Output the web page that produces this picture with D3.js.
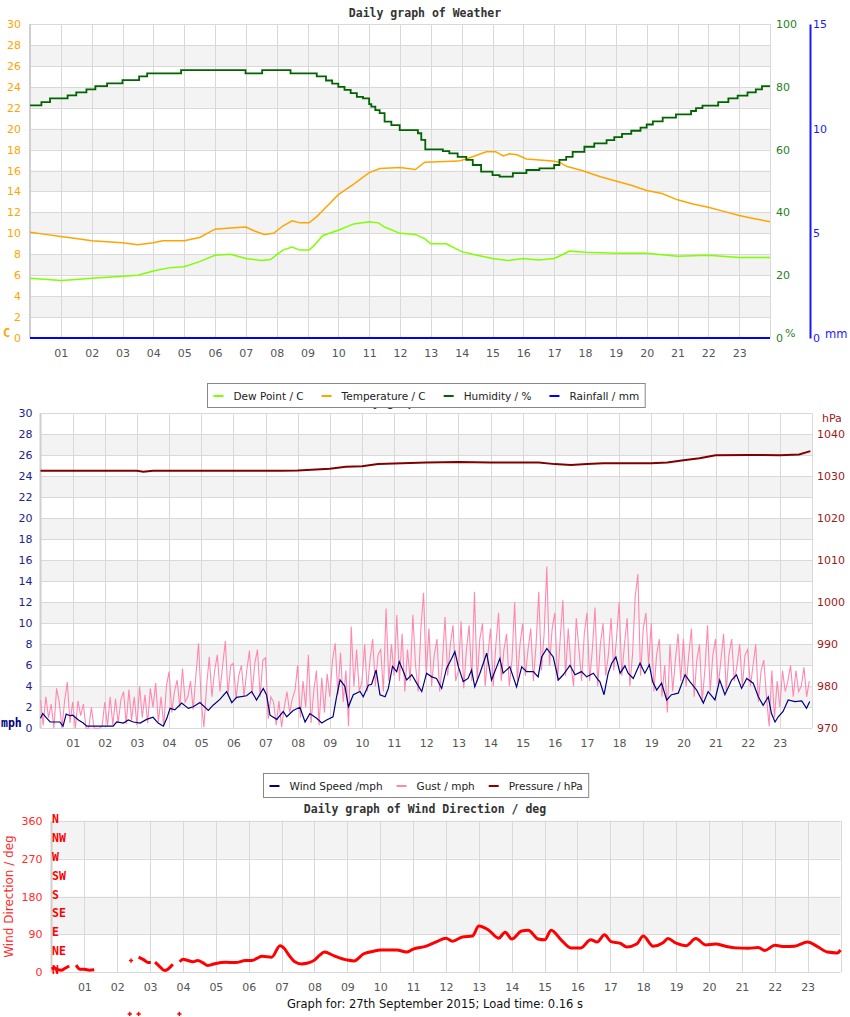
<!DOCTYPE html>
<html>
<head>
<meta charset="utf-8">
<script src="https://cdn.jsdelivr.net/npm/d3@7"></script>
<style>
  body { margin: 0; background: #fff; }
  svg { display: block; font-family: "DejaVu Sans", sans-serif; }
</style>
</head>
<body>
<div class="chart"></div>
<script>
// ---- data (hour of day, value) ----
var hourTicks = d3.range(1, 24);
var hourLabels = ['01','02','03','04','05','06','07','08','09','10','11','12','13','14','15','16','17','18','19','20','21','22','23'];

var tempTicks = [0, 2, 4, 6, 8, 10, 12, 14, 16, 18, 20, 22, 24, 26, 28, 30];
var humTicks = [0, 20, 40, 60, 80, 100];
var rainTicks = [0, 5, 10, 15];
var pressTicks = [970, 980, 990, 1000, 1010, 1020, 1030, 1040];
var dirTicks = [0, 90, 180, 270, 360];
var compass = ['N', 'NE', 'E', 'SE', 'S', 'SW', 'W', 'NW', 'N'];

var dewPoint = [[0,5.7],[1,5.5],[1.5,5.6],[2,5.7],[3,5.9],[3.5,6.0],[4,6.4],[4.5,6.7],[5,6.8],[5.5,7.3],[6,7.9],[6.5,8.0],[7,7.6],[7.5,7.4],[7.8,7.5],[8.2,8.4],[8.5,8.7],[8.75,8.4],[9.05,8.4],[9.2,8.8],[9.5,9.8],[10,10.3],[10.5,10.9],[11,11.1],[11.3,11.0],[11.5,10.6],[12,10.0],[12.5,9.9],[12.8,9.5],[13,9.0],[13.5,9.0],[14,8.25],[14.5,7.9],[15,7.6],[15.5,7.4],[16,7.6],[16.5,7.45],[17,7.6],[17.3,8.0],[17.5,8.3],[18,8.2],[19,8.1],[20,8.1],[21,7.8],[22,7.9],[23,7.7],[24,7.7]];

var temperature = [[0,10.1],[0.5,9.9],[1,9.7],[1.5,9.5],[2,9.3],[2.5,9.2],[3,9.1],[3.5,8.9],[4,9.1],[4.3,9.3],[5,9.3],[5.5,9.6],[6,10.4],[6.5,10.5],[7,10.6],[7.3,10.2],[7.6,9.9],[7.9,10.0],[8.2,10.7],[8.5,11.2],[8.75,11.0],[9.05,11.0],[9.3,11.6],[9.6,12.5],[10,13.7],[10.5,14.7],[11,15.8],[11.35,16.2],[12,16.3],[12.5,16.1],[12.8,16.8],[13.9,16.9],[14.15,17.1],[14.8,17.8],[15.1,17.8],[15.35,17.4],[15.55,17.6],[15.8,17.5],[16.1,17.1],[16.95,16.9],[17.17,16.8],[17.4,16.4],[17.9,16.0],[18.5,15.4],[19,15.0],[19.5,14.6],[20,14.1],[20.5,13.8],[21,13.2],[21.5,12.8],[22,12.5],[22.5,12.1],[23,11.7],[23.5,11.4],[24,11.1]];

var humidity = [[0,74.1],[0.37,75.1],[0.65,76.3],[1.22,77.3],[1.5,78.2],[1.83,79.2],[2.12,80.2],[2.5,81.1],[3.0,82.1],[3.54,83.3],[3.8,84.3],[4.9,85.3],[6.99,84.3],[7.53,85.3],[8.45,84.3],[9.3,83.3],[9.6,82],[9.8,81],[10.0,80],[10.2,79],[10.4,78],[10.6,76.8],[10.8,76.3],[11.0,74.5],[11.07,73.7],[11.2,72.6],[11.34,71.6],[11.5,68.9],[11.72,67.8],[11.99,66.2],[12.58,65.2],[12.69,63.1],[12.82,60.1],[13.39,59.5],[13.6,58.8],[13.87,57.7],[14.15,56.7],[14.36,55.1],[14.63,53.0],[15.0,51.9],[15.23,51.4],[15.66,52.5],[16.1,53.5],[16.52,54.0],[17.0,55.1],[17.17,56.7],[17.39,57.7],[17.6,59.3],[17.98,60.9],[18.3,62.0],[18.7,63],[18.95,64],[19.2,65],[19.5,66],[19.8,67],[20.0,68],[20.2,69],[20.52,70.2],[20.95,71.2],[21.44,72.3],[21.6,73.2],[21.81,74.0],[22.32,75.1],[22.65,76.3],[22.95,77.2],[23.27,78.2],[23.54,79.2],[23.74,80.2],[24,80.2]];

var rainfall = [[0,0],[24,0]];

var windSpeed = [[0,0.95],[0.07,1.4],[0.2,0.95],[0.3,0.6],[0.6,0.6],[0.7,0.2],[0.8,1.35],[0.92,1.2],[1.0,1.25],[1.18,0.8],[1.33,0.5],[1.44,0.2],[2.26,0.2],[2.37,0.6],[2.58,0.5],[2.73,0.8],[2.89,0.6],[3.1,0.5],[3.3,0.85],[3.5,1.05],[3.66,0.5],[3.82,0.2],[3.93,0.95],[4.03,1.9],[4.18,1.75],[4.39,2.4],[4.6,1.9],[4.75,2.05],[4.96,2.45],[5.22,1.7],[5.37,2.2],[5.58,2.75],[5.79,3.5],[5.95,2.45],[6.1,2.95],[6.41,3.1],[6.57,3.5],[6.72,2.7],[6.93,3.8],[7.03,3.2],[7.14,1.25],[7.35,0.85],[7.55,1.6],[7.66,1.1],[7.86,1.7],[8.07,2.0],[8.23,0.6],[8.38,1.4],[8.59,0.95],[8.75,0.5],[8.9,0.8],[9.1,1.1],[9.21,3.0],[9.32,4.6],[9.47,4.0],[9.58,2.05],[9.73,3.2],[9.94,3.5],[10.04,3.0],[10.2,4.1],[10.3,4.2],[10.44,5.55],[10.56,3.2],[10.72,3.0],[10.82,3.8],[10.95,5.9],[11.08,5.4],[11.16,6.35],[11.31,5.25],[11.39,4.6],[11.55,5.1],[11.7,4.3],[11.86,3.5],[12.01,5.25],[12.17,4.9],[12.32,4.75],[12.48,3.8],[12.63,5.7],[12.79,6.65],[12.89,7.3],[13.0,5.85],[13.15,4.45],[13.3,4.75],[13.41,5.55],[13.51,3.95],[13.67,5.25],[13.88,7.15],[14.03,4.6],[14.19,5.85],[14.29,6.65],[14.39,5.25],[14.6,5.85],[14.81,3.95],[14.97,5.85],[15.12,5.4],[15.33,5.4],[15.48,4.9],[15.59,6.8],[15.75,7.6],[15.95,6.8],[16.11,4.6],[16.26,5.1],[16.47,6.0],[16.63,5.1],[16.83,5.4],[16.99,4.9],[17.2,5.25],[17.35,4.6],[17.4,4.45],[17.53,3.2],[17.66,5.25],[17.77,6.2],[17.9,6.8],[18.03,5.25],[18.18,5.95],[18.28,5.25],[18.44,4.75],[18.65,6.2],[18.8,5.25],[18.94,6.05],[19.04,4.45],[19.17,3.65],[19.32,4.3],[19.48,2.7],[19.63,3.2],[19.84,3.35],[20.05,5.1],[20.2,4.45],[20.41,3.65],[20.62,2.4],[20.77,3.5],[20.98,2.7],[21.13,4.6],[21.29,3.2],[21.5,4.6],[21.65,5.1],[21.81,3.8],[21.97,4.75],[22.17,4.3],[22.33,3.0],[22.48,2.2],[22.64,3.0],[22.74,1.4],[22.85,0.6],[22.95,1.1],[23.1,1.6],[23.26,2.7],[23.47,2.55],[23.68,2.6],[23.83,1.9],[23.93,2.55]];

// gust readings every 5 minutes, one row per hour
var gustStep = 1 / 12;
var gust = [
  2.7,0.3,3.0,1.0,2.3,0,3.8,2.5,0,2.6,4.4,0.5,
  2.5,0,2.6,1.2,2.3,0,0,2.0,0,0,0,0.2,
  2.5,0.2,3.0,0.3,2.8,0.5,2.7,3.5,0.4,3.7,0.8,3.0,
  0.3,4.0,1.0,3.2,0.5,3.8,2.0,4.3,0.6,3.0,0.2,4.0,
  5.4,1.5,3.5,4.6,2.0,5.7,2.5,3.0,4.5,1.8,5.0,8.1,
  2.5,0.1,4.0,6.8,3.0,5.5,7.0,3.5,6.0,8.3,3.2,6.0,
  6.2,2.8,5.0,6.0,3.0,5.5,7.4,3.2,6.2,7.5,3.0,6.5,
  6.7,0.9,3.0,2.5,0.3,2.6,0.1,2.0,3.5,1.5,2.8,3.6,
  6.0,1.0,4.5,2.0,7.0,0.5,3.5,5.5,0.3,4.8,1.5,5.2,
  3.0,6.5,8.1,3.2,7.2,2.5,5.5,0.2,9.7,4.0,7.5,3.5,
  4.5,8.0,3.5,6.5,8.5,4.0,7.0,7.5,3.5,11.4,4.5,8.0,
  5.0,10.8,4.5,9.0,3.5,7.5,4.5,10.8,6.0,3.5,9.5,12.9,
  5.0,9.5,4.0,7.0,8.5,3.5,6.0,10.6,5.0,8.0,9.8,4.5,
  5.5,10.2,3.8,7.5,9.8,4.5,13.0,4.5,8.5,10.0,4.0,7.0,
  9.5,4.0,8.0,11.0,4.5,7.5,9.0,4.0,6.5,12.0,4.5,8.0,
  10.0,5.0,7.5,9.5,4.5,8.0,13.0,5.5,9.0,15.4,6.0,9.5,
  11.0,4.5,8.5,12.2,5.0,9.5,6.0,4.0,10.5,7.5,4.5,9.0,
  11.0,4.5,7.5,11.5,4.0,8.0,10.0,5.0,7.0,10.5,5.5,8.5,
  12.0,5.0,8.0,10.5,4.0,7.0,12.5,14.7,5.0,9.5,11.0,6.0,
  10.0,3.5,7.0,8.5,3.0,6.0,1.5,8.0,3.5,6.5,9.0,4.5,
  8.5,4.0,7.0,9.5,3.0,6.5,8.0,2.5,5.5,9.8,3.5,7.0,
  8.5,4.0,6.5,9.0,3.5,7.0,8.5,4.5,6.0,8.0,4.0,7.0,
  7.5,4.0,6.0,8.0,2.5,5.5,6.5,3.0,0.2,5.5,1.0,4.5,
  2.0,5.5,3.5,4.5,6.0,3.0,5.5,3.5,4.0,5.8,3.0,4.5
];

var pressure = [[0,1031.3],[3,1031.3],[3.2,1031.1],[3.5,1031.3],[7.5,1031.3],[8,1031.4],[9,1031.8],[9.5,1032.3],[10,1032.4],[10.5,1032.9],[12,1033.3],[13,1033.4],[14,1033.3],[15.5,1033.3],[16,1032.9],[16.5,1032.7],[17,1032.9],[17.5,1033.1],[19,1033.1],[19.5,1033.3],[20,1033.8],[20.5,1034.3],[21,1035.0],[22,1035.1],[23,1035.0],[23.6,1035.2],[23.95,1036.0]];

// null marks a gap in the record
var windDir = [[0,8],[0.1,10],[0.2,6],[0.3,5],[0.4,9],[0.54,15],[0.6,null],
  [0.75,17],[0.87,7],[1.0,7],[1.15,5],[1.3,6],[1.35,null],
  [2.65,36],[2.8,30],[2.94,23],[3.02,23],[3.08,null],
  [3.15,24],[3.3,13],[3.44,4],[3.55,8],[3.69,19],[3.75,null],
  [3.9,25],[4.0,31],[4.15,28],[4.3,25],[4.45,28],[4.6,23],[4.75,16],[4.9,19],[5.0,21],[5.3,24],[5.6,23],[5.9,28],[6.1,28],[6.25,33],[6.4,38],[6.7,36],[6.95,63],[7.1,55],[7.2,43],[7.4,25],[7.6,20],[7.8,22],[8.0,29],[8.15,40],[8.3,48],[8.6,39],[9.0,29],[9.2,27],[9.5,44],[9.8,50],[10.0,53],[10.5,53],[10.8,48],[11.0,55],[11.4,62],[11.7,72],[12.0,81],[12.2,74],[12.5,84],[12.8,86],[13.0,110],[13.3,100],[13.6,81],[13.8,95],[14.0,79],[14.3,98],[14.5,100],[14.8,79],[15.0,77],[15.2,100],[15.5,77],[15.8,58],[16.1,58],[16.4,77],[16.6,72],[16.82,89],[17.02,73],[17.3,69],[17.5,60],[17.8,67],[18.0,86],[18.3,62],[18.6,70],[18.75,80],[19.0,69],[19.3,63],[19.6,80],[19.9,65],[20.2,67],[20.5,62],[20.8,58],[21.2,57],[21.5,59],[21.7,52],[22.0,64],[22.3,61],[22.6,62],[23.0,72],[23.3,61],[23.6,48],[23.9,46],[24,53]];
// lone readings drawn as crosses (negative ones are bad readings)
var windDirSpots = [[2.42,28],[2.38,-99],[2.65,-99],[3.89,-99]];

var footer = 'Graph for: 27th September 2015; Load time: 0.16 s';

// ---- drawing ----
var FONT = '"DejaVu Sans", sans-serif';
var MONO = '"DejaVu Sans Mono", monospace';
var svg = d3.select('.chart').append('svg').attr('width', 850).attr('height', 1017);

var lineOf = function (x, y, curve) {
    return d3.line()
        .defined(function (d) { return d[1] !== null; })
        .x(function (d) { return x(d[0]); })
        .y(function (d) { return y(d[1]); })
        .curve(curve || d3.curveLinear);
};

var drawFrame = function (g, x, y, grid, bands) {
    var x0 = x(0), x1 = x(24), yb = y.range()[0], yt = y.range()[1];
    g.selectAll('rect.band').data(bands).enter().append('rect')
        .attr('class', 'band')
        .attr('x', x0).attr('width', x1 - x0)
        .attr('y', function (d) { return y(d[1]); })
        .attr('height', function (d) { return y(d[0]) - y(d[1]); })
        .attr('fill', '#f3f3f3');
    g.selectAll('line.h').data(grid).enter().append('line')
        .attr('class', 'h')
        .attr('x1', x0).attr('x2', x1)
        .attr('y1', function (d) { return Math.round(y(d)) + 0.5; })
        .attr('y2', function (d) { return Math.round(y(d)) + 0.5; })
        .attr('stroke', '#d9d9d9');
    g.selectAll('line.v').data(hourTicks.concat([24])).enter().append('line')
        .attr('class', 'v')
        .attr('x1', function (d) { return Math.round(x(d)) + 0.5; })
        .attr('x2', function (d) { return Math.round(x(d)) + 0.5; })
        .attr('y1', yb).attr('y2', yt)
        .attr('stroke', '#d9d9d9');
    g.append('line')
        .attr('x1', x0).attr('x2', x0).attr('y1', yb).attr('y2', yt)
        .attr('stroke', '#cfcfcf').attr('stroke-width', 2);
};

var hourAxis = function (g, x, yMid) {
    g.append('g')
        .attr('transform', 'translate(0,' + (yMid - 4) + ')')
        .call(d3.axisBottom(x).tickValues(hourTicks)
            .tickFormat(function (d, i) { return hourLabels[i]; })
            .tickSize(0).tickPadding(0))
        .call(function (a) { a.select('.domain').remove(); })
        .attr('font-family', FONT).attr('font-size', 11)
        .selectAll('text').attr('fill', '#555');
};

var valueAxis = function (g, axis, xPos, color, keepDomain) {
    var a = g.append('g')
        .attr('transform', 'translate(' + xPos + ',0)')
        .call(axis)
        .attr('font-family', FONT).attr('font-size', 11);
    a.selectAll('text').attr('fill', color);
    if (keepDomain) {
        a.select('.domain').attr('stroke', color).attr('stroke-width', 2);
    } else {
        a.select('.domain').remove();
    }
    return a;
};

var title = function (text, cx, y) {
    svg.append('text').attr('x', cx).attr('y', y)
        .attr('text-anchor', 'middle')
        .attr('font-family', MONO).attr('font-weight', 'bold').attr('font-size', 11.5)
        .attr('fill', '#333').text(text);
};

var legend = function (items, cx, top, gap) {
    var g = svg.append('g');
    var box = g.append('rect').attr('y', top).attr('height', 24)
        .attr('fill', '#fff').attr('stroke', '#888');
    var pos = 6;
    items.forEach(function (it) {
        g.append('line').attr('x1', pos).attr('x2', pos + 10)
            .attr('y1', top + 12.5).attr('y2', top + 12.5)
            .attr('stroke', it.color).attr('stroke-width', 2);
        var t = g.append('text').attr('x', pos + 20).attr('y', top + 16.5)
            .attr('font-family', FONT).attr('font-size', 10.5).attr('fill', '#222')
            .text(it.label);
        pos += 20 + t.node().getComputedTextLength() + gap;
    });
    var w = pos - gap + 6;
    var left = Math.round(cx - w / 2) + 0.5;
    box.attr('x', 0).attr('width', w);
    g.attr('transform', 'translate(' + left + ',0)');
};

var bands2 = d3.range(2, 30, 4).map(function (v) { return [v, v + 2]; });

// ===== panel 1: weather =====
(function () {
    var x = d3.scaleLinear().domain([0, 24]).range([30, 770]);
    var y = d3.scaleLinear().domain([0, 30]).range([338, 24]);
    var yH = d3.scaleLinear().domain([0, 100]).range([338, 24]);
    var yR = d3.scaleLinear().domain([0, 15]).range([338, 24]);
    var g = svg.append('g');

    title('Daily graph of Weather', 425, 17);
    drawFrame(g, x, y, tempTicks, bands2);

    g.append('path').datum(dewPoint).attr('d', lineOf(x, y))
        .attr('fill', 'none').attr('stroke', '#7fff00').attr('stroke-width', 1.5);
    g.append('path').datum(temperature).attr('d', lineOf(x, y))
        .attr('fill', 'none').attr('stroke', '#ffa500').attr('stroke-width', 1.5);
    g.append('path').datum(humidity).attr('d', lineOf(x, yH, d3.curveStepAfter))
        .attr('fill', 'none').attr('stroke', '#006400').attr('stroke-width', 1.8);
    g.append('path').datum(rainfall).attr('d', lineOf(x, yR))
        .attr('fill', 'none').attr('stroke', '#0000ff').attr('stroke-width', 2);

    valueAxis(g, d3.axisLeft(y).tickValues(tempTicks).tickSize(0).tickPadding(9), 30, '#ffa500');
    valueAxis(g, d3.axisRight(yH).tickValues(humTicks).tickSize(0).tickPadding(6), 770, '#1f7f1f');
    valueAxis(g, d3.axisRight(yR).tickValues(rainTicks).tickSize(0).tickSizeOuter(0).tickPadding(3), 810, '#1a1aff', true);
    hourAxis(g, x, 353);

    g.append('text').attr('x', 3).attr('y', 337).attr('font-family', MONO).attr('font-weight', 'bold')
        .attr('font-size', 12).attr('fill', '#ffa500').text('C');
    g.append('text').attr('x', 785).attr('y', 337).attr('font-family', FONT)
        .attr('font-size', 11).attr('fill', '#1f7f1f').text('%');
    g.append('text').attr('x', 825).attr('y', 338).attr('font-family', FONT)
        .attr('font-size', 11.5).attr('fill', '#1a1aff').text('mm');
})();

// ===== panel 2: wind and pressure =====
(function () {
    var x = d3.scaleLinear().domain([0, 24]).range([40.5, 812]);
    var y = d3.scaleLinear().domain([0, 30]).range([728.3, 413.3]);
    var yP = d3.scaleLinear().domain([970, 1040]).range([728.3, 434.3]);
    var g = svg.append('g');

    title('Daily graph of Pressure', 425, 406);
    drawFrame(g, x, y, tempTicks, bands2);

    var gustPts = gust.map(function (v, i) { return [i * gustStep, v]; });
    g.append('path').datum(gustPts).attr('d', lineOf(x, y))
        .attr('fill', 'none').attr('stroke', '#ff88b0').attr('stroke-width', 1.1);
    g.append('path').datum(windSpeed).attr('d', lineOf(x, y))
        .attr('fill', 'none').attr('stroke', '#000080').attr('stroke-width', 1.2);
    g.append('path').datum(pressure).attr('d', lineOf(x, yP))
        .attr('fill', 'none').attr('stroke', '#800000').attr('stroke-width', 2);

    valueAxis(g, d3.axisLeft(y).tickValues(tempTicks).tickSize(0).tickPadding(8), 40.5, '#22228b');
    valueAxis(g, d3.axisRight(yP).tickValues(pressTicks).tickFormat(d3.format('d')).tickSize(0).tickPadding(5), 812, '#9b1b1b');
    hourAxis(g, x, 743);

    g.append('text').attr('x', 1).attr('y', 727).attr('font-family', MONO).attr('font-weight', 'bold')
        .attr('font-size', 11.5).attr('fill', '#000080').text('mph');
    g.append('text').attr('x', 822).attr('y', 422).attr('font-family', FONT)
        .attr('font-size', 11).attr('fill', '#9b1b1b').text('hPa');
})();

legend([
    { label: 'Dew Point / C', color: '#7fff00' },
    { label: 'Temperature / C', color: '#ffa500' },
    { label: 'Humidity / %', color: '#006400' },
    { label: 'Rainfall / mm', color: '#0000ff' }
], 425.5, 383.5, 18);

legend([
    { label: 'Wind Speed /mph', color: '#000080' },
    { label: 'Gust / mph', color: '#ff88b0' },
    { label: 'Pressure / hPa', color: '#8b0000' }
], 425.5, 773.5, 14);

// ===== panel 3: wind direction =====
(function () {
    var x = d3.scaleLinear().domain([0, 24]).range([51.5, 840.5]);
    var y = d3.scaleLinear().domain([0, 360]).range([972.3, 820.7]);
    var g = svg.append('g');

    title('Daily graph of Wind Direction / deg', 425, 813);
    drawFrame(g, x, y, dirTicks, [[90, 180], [270, 360]]);

    g.append('path').datum(windDir).attr('d', lineOf(x, y, d3.curveMonotoneX))
        .attr('fill', 'none').attr('stroke', '#ff0000').attr('stroke-width', 3)
        .attr('stroke-linejoin', 'round');
    g.selectAll('path.spot').data(windDirSpots).enter().append('path')
        .attr('class', 'spot')
        .attr('transform', function (d) { return 'translate(' + x(d[0]) + ',' + y(d[1]) + ')'; })
        .attr('d', d3.symbol().type(d3.symbolCross).size(10))
        .attr('fill', '#ff0000');

    valueAxis(g, d3.axisLeft(y).tickValues(dirTicks).tickSize(0).tickPadding(9), 51.5, '#ff2a2a');
    hourAxis(g, x, 987);

    g.selectAll('text.compass').data(compass).enter().append('text')
        .attr('class', 'compass')
        .attr('x', 52)
        .attr('y', function (d, i) { return y(i * 45) + 2; })
        .attr('font-family', MONO).attr('font-weight', 'bold').attr('font-size', 11.5)
        .attr('fill', '#ff0000').text(function (d) { return d; });

    g.append('text')
        .attr('transform', 'translate(13,' + y(180) + ') rotate(-90)')
        .attr('text-anchor', 'middle')
        .attr('font-family', FONT).attr('font-size', 12).attr('fill', '#ff2a2a')
        .text('Wind Direction / deg');

    svg.append('text').attr('x', 435).attr('y', 1008).attr('text-anchor', 'middle')
        .attr('font-family', FONT).attr('font-size', 11.5).attr('fill', '#111')
        .text(footer);
})();
</script>
</body>
</html>
